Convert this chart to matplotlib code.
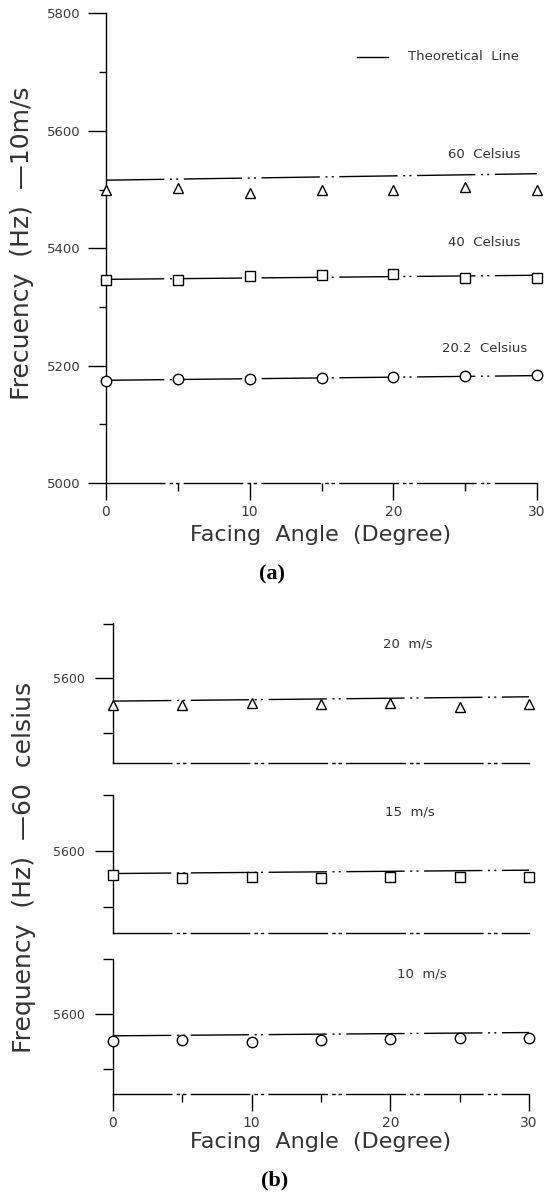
import matplotlib
matplotlib.use("Agg")
import matplotlib.pyplot as plt
from matplotlib.ticker import FixedLocator, NullFormatter

plt.rcParams['font.family'] = ['DejaVu Sans']

# ---------------- data ----------------
angles = [0, 5, 10, 15, 20, 25, 30]
line_angles = [0, 30]

# panel (a): 10 m/s, different temperatures
a_60C_meas = [5499, 5502, 5494, 5499, 5500, 5504, 5499]
a_60C_theory = [5516, 5527]
a_40C_meas = [5346, 5346, 5353, 5354, 5356, 5349, 5349]
a_40C_theory = [5347, 5354]
a_20C_meas = [5174, 5177, 5178, 5179, 5181, 5182, 5184]
a_20C_theory = [5175, 5183]

# panel (b): 60 celsius, different speeds
b_20ms_meas = [5575, 5575, 5577, 5576, 5577, 5574, 5576]
b_20ms_theory = [5579, 5583]
b_15ms_meas = [5579, 5576, 5577, 5576, 5577, 5577, 5577]
b_15ms_theory = [5580, 5583]
b_10ms_meas = [5575, 5576, 5574, 5576, 5577, 5578, 5578]
b_10ms_theory = [5580, 5583]

a_labels = ["60  Celsius", "40  Celsius", "20.2  Celsius"]
b_labels = ["20  m/s", "15  m/s", "10  m/s"]

W, H = 546, 1193
fig = plt.figure(figsize=(W / 100, H / 100), dpi=100)

def fx(px):
    return px / W

def fy(py):
    return 1 - py / H

DASH = (0, (42, 4, 1.5, 3, 1.5, 4))
TXT = '#333333'
TICKC = '#3a3a3a'

def style_axes(ax):
    for s in ['top', 'right']:
        ax.spines[s].set_visible(False)
    ax.spines['left'].set_linewidth(1.0)
    ax.spines['bottom'].set_linewidth(1.0)
    ax.spines['bottom'].set_linestyle(DASH)
    ax.tick_params(axis='both', which='both', direction='out', width=1.0,
                   colors='black', labelcolor=TICKC)

# ---------------- panel (a) ----------------
axa = fig.add_axes([fx(106), fy(483), fx(537 - 106), (483 - 13.5) / H])
style_axes(axa)
axa.set_xlim(0, 30)
axa.set_ylim(5000, 5800)
axa.xaxis.set_major_locator(FixedLocator([0, 10, 20, 30]))
axa.xaxis.set_minor_locator(FixedLocator([5, 15, 25]))
axa.yaxis.set_major_locator(FixedLocator([5000, 5200, 5400, 5600, 5800]))
axa.yaxis.set_minor_locator(FixedLocator([5100, 5300, 5500, 5700]))
axa.tick_params(axis='x', which='major', length=12, pad=4, labelsize=10)
axa.tick_params(axis='x', which='minor', length=6)
axa.tick_params(axis='y', which='major', length=13, pad=5, labelsize=9.5)
axa.tick_params(axis='y', which='minor', length=5)

mk = dict(linestyle='none', markerfacecolor='white', markeredgecolor='black',
          markeredgewidth=1.0, clip_on=False, zorder=3)
for theo, meas, m, ms in [(a_60C_theory, a_60C_meas, '^', 6.5),
                          (a_40C_theory, a_40C_meas, 's', 6.5),
                          (a_20C_theory, a_20C_meas, 'o', 7.5)]:
    axa.plot(line_angles, theo, color='black', lw=1.0, linestyle=DASH,
             clip_on=False, zorder=2)
    axa.plot(angles, meas, marker=m, markersize=ms, **mk)

# legend line
axa.plot([fx(357), fx(388)], [fy(57), fy(57)], transform=fig.transFigure,
         color='black', lw=1.0, clip_on=False)
fig.text(fx(408), fy(57), "Theoretical  Line", fontsize=9.5, color=TXT,
         ha='left', va='center')
fig.text(fx(448), fy(154), a_labels[0], fontsize=9.5, color=TXT, ha='left', va='center')
fig.text(fx(448), fy(242), a_labels[1], fontsize=9.5, color=TXT, ha='left', va='center')
fig.text(fx(442), fy(349), a_labels[2], fontsize=9.5, color=TXT, ha='left', va='center')

fig.text(fx(22), fy(243), "Frecuency  (Hz)  \u201410m/s", fontsize=18, color=TXT,
         rotation=90, ha='center', va='center')
fig.text(fx(321), fy(535), "Facing  Angle  (Degree)", fontsize=16, color=TXT,
         ha='center', va='center')
fig.text(fx(272), fy(574), "(a)", fontsize=16, fontweight='bold',
         family='Liberation Serif', color='black', ha='center', va='center')

# ---------------- panel (b) ----------------
b_boxes = [(623, 763, 5522, 5651), (795, 933, 5527, 5650), (959, 1094, 5527, 5650)]
b_series = [(b_20ms_theory, b_20ms_meas, '^', 6.5),
            (b_15ms_theory, b_15ms_meas, 's', 6.5),
            (b_10ms_theory, b_10ms_meas, 'o', 7.5)]
b_label_pos = [(383, 644), (385, 812), (397, 974)]

for i, ((top, bot, y0, y1), (theo, meas, m, ms), lab, (lx, ly)) in enumerate(
        zip(b_boxes, b_series, b_labels, b_label_pos)):
    ax = fig.add_axes([fx(113), fy(bot), fx(529 - 113), (bot - top) / H])
    style_axes(ax)
    ax.set_xlim(0, 30)
    ax.set_ylim(y0, y1)
    ax.yaxis.set_major_locator(FixedLocator([5600]))
    ax.yaxis.set_minor_locator(FixedLocator([5550, 5650]))
    ax.yaxis.set_minor_formatter(NullFormatter())
    ax.tick_params(axis='y', which='major', length=13, pad=7, labelsize=9)
    ax.tick_params(axis='y', which='minor', length=7)
    if i < 2:
        ax.xaxis.set_major_locator(FixedLocator([]))
        ax.xaxis.set_minor_locator(FixedLocator([]))
    else:
        ax.xaxis.set_major_locator(FixedLocator([0, 10, 20, 30]))
        ax.xaxis.set_minor_locator(FixedLocator([5, 15, 25]))
        ax.tick_params(axis='x', which='major', length=12, pad=4, labelsize=10)
        ax.tick_params(axis='x', which='minor', length=6)
    ax.plot(line_angles, theo, color='black', lw=1.0, linestyle=DASH,
            clip_on=False, zorder=2)
    ax.plot(angles, meas, marker=m, markersize=ms, **mk)
    fig.text(fx(lx), fy(ly), lab, fontsize=9.5, color=TXT, ha='left', va='center')

fig.text(fx(24), fy(867), "Frequency  (Hz)  \u201460  celsius", fontsize=18, color=TXT,
         rotation=90, ha='center', va='center')
fig.text(fx(321), fy(1142), "Facing  Angle  (Degree)", fontsize=16, color=TXT,
         ha='center', va='center')
fig.text(fx(275), fy(1180), "(b)", fontsize=16, fontweight='bold',
         family='Liberation Serif', color='black', ha='center', va='center')

fig.savefig("out.png", dpi=100, facecolor='white')
